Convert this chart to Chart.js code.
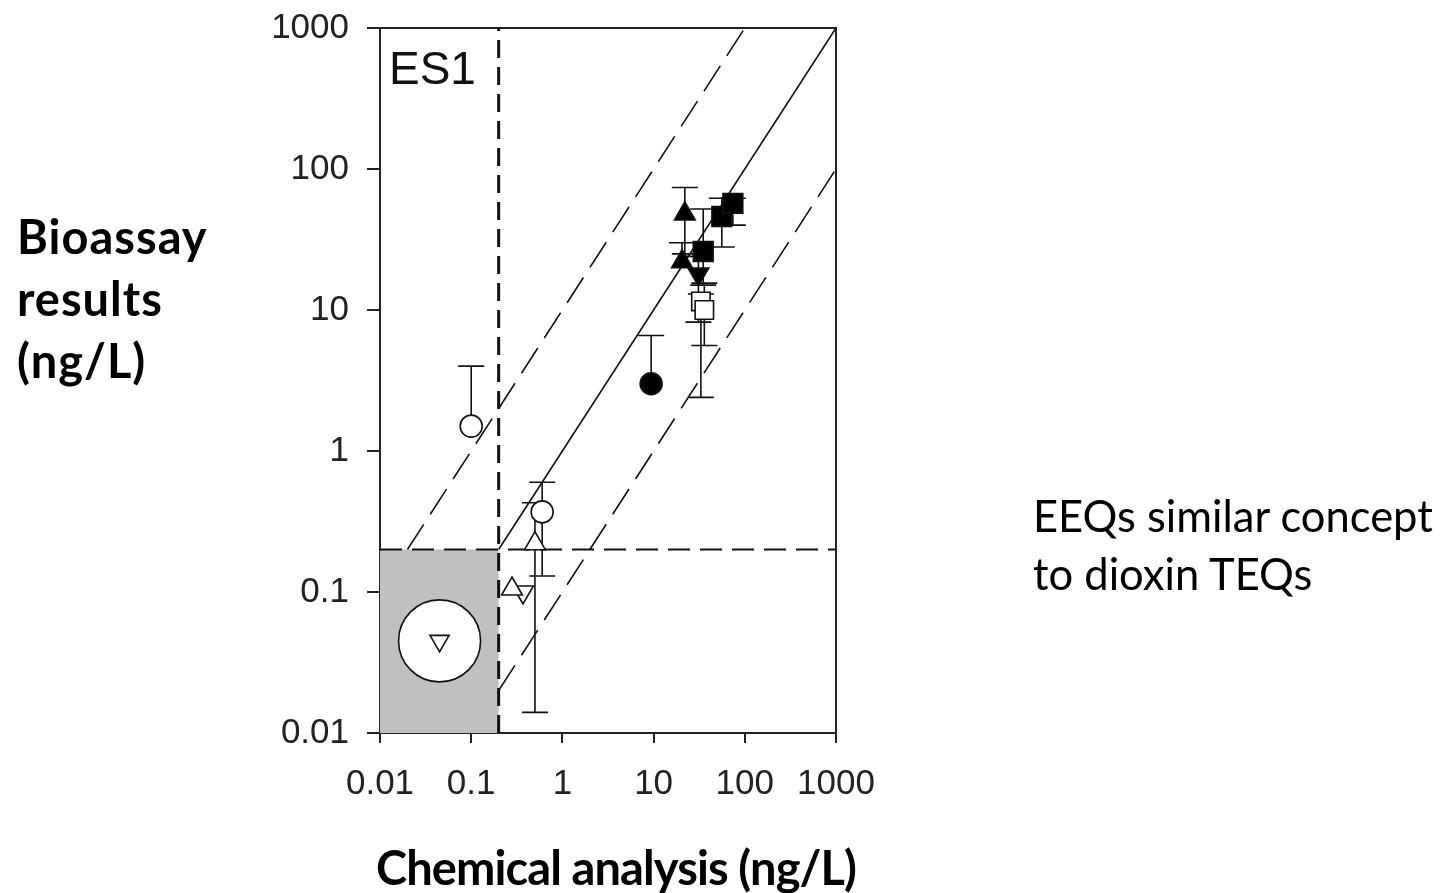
<!DOCTYPE html>
<html>
<head>
<meta charset="utf-8">
<script src="https://cdn.jsdelivr.net/npm/chart.js@4.4.1/dist/chart.umd.min.js"></script>
<style>
  body { margin: 0; background: #fff; }
  #wrap { position: relative; width: 1454px; height: 893px; }
  #grafico { position: absolute; left: 0; top: 0; }
  .etiqueta { position: absolute; font-family: Lato, "Open Sans", sans-serif; color: #000; white-space: nowrap; }
  .negrita { font-weight: 700; font-size: 47px; line-height: 62px; }
  #eje-y { left: 17px; top: 205px; letter-spacing: 1px; }
  #eje-x { left: 376px; top: 836px; letter-spacing: -0.9px; }
  #nota { left: 1033px; top: 486px; font-size: 43.5px; line-height: 58px; }
</style>
</head>
<body>
<div id="wrap">
  <canvas id="grafico" width="1454" height="893"></canvas>
  <div class="etiqueta negrita" id="eje-y">Bioassay<br>results<br>(ng/L)</div>
  <div class="etiqueta negrita" id="eje-x">Chemical analysis (ng/L)</div>
  <div class="etiqueta" id="nota">EEQs similar concept<br>to dioxin TEQs</div>
</div>
<script>
// ticks de los ejes (log)
const ticksX = [0.01, 0.1, 1, 10, 100, 1000];
const ticksY = [0.01, 0.1, 1, 10, 100, 1000];

// puntos abiertos
const circAbiertoX = [0.1, 0.6];
const circAbiertoY = [1.5, 0.37];
const circAbiertoLo = [1.5, 0.13];
const circAbiertoHi = [4, 0.6];

const triArribaAbiertoX = [0.5, 0.28];
const triArribaAbiertoY = [0.22, 0.105];
const triArribaAbiertoLo = [0.014, 0.105];
const triArribaAbiertoHi = [0.43, 0.105];

const triAbajoAbiertoX = [0.37];
const triAbajoAbiertoY = [0.1];

const cuadAbiertoX = [33, 36];
const cuadAbiertoY = [11.5, 10];
const cuadAbiertoLo = [2.4, 5.6];
const cuadAbiertoHi = [13, 15.5];

// puntos rellenos
const circLlenoX = [9.4];
const circLlenoY = [3.0];
const circLlenoLo = [3.0];
const circLlenoHi = [6.6];

const triArribaLlenoX = [22, 20.5];
const triArribaLlenoY = [48, 22];
const triArribaLlenoLo = [25, 22];
const triArribaLlenoHi = [74, 30];

const triAbajoLlenoX = [31];
const triAbajoLlenoY = [18];
const triAbajoLlenoLo = [8.2];
const triAbajoLlenoHi = [24];

const cuadLlenoX = [35, 56, 74];
const cuadLlenoY = [26, 46, 57];
const cuadLlenoLo = [15, 28, 40];
const cuadLlenoHi = [52, 62, 62];

// punto grande en la zona gris (por debajo del limite)
const bajoLimiteX = [0.045];
const bajoLimiteY = [0.045];

// lineas de referencia
const linea11X = [0.2, 1000];
const linea11Y = [0.2, 1000];
const lineaSupX = [0.02, 100];
const lineaSupY = [0.2, 1000];
const lineaInfX = [0.2, 1000];
const lineaInfY = [0.02, 100];
const limiteX = 0.2;
const limiteY = 0.2;

// zona gris
const grisX = [0.01, 0.2];
const grisY = [0.01, 0.2];

const armar = (xs, ys) => xs.map((x, i) => ({ x: x, y: ys[i] }));

function puntos(label, xs, ys, lo, hi, estilo, radio, relleno, rot) {
    return {
        type: 'scatter', label, data: armar(xs, ys), lo, hi,
        pointStyle: estilo, pointRadius: radio, pointHoverRadius: radio,
        pointRotation: rot || 0,
        backgroundColor: relleno ? '#000' : '#fff',
        borderColor: '#111', borderWidth: 1.6, order: 1
    };
}

function linea(label, xs, ys, dash, ancho) {
    return {
        type: 'line', label, data: armar(xs, ys), borderColor: '#111',
        borderWidth: ancho, borderDash: dash, pointRadius: 0, fill: false, order: 5
    };
}

const datasets = [
    puntos('circ abierto', circAbiertoX, circAbiertoY, circAbiertoLo, circAbiertoHi, 'circle', 11, false),
    puntos('tri abierto', triArribaAbiertoX, triArribaAbiertoY, triArribaAbiertoLo, triArribaAbiertoHi, 'triangle', 12, false),
    puntos('tri abajo abierto', triAbajoAbiertoX, triAbajoAbiertoY, null, null, 'triangle', 12, false, 180),
    puntos('cuad abierto', cuadAbiertoX, cuadAbiertoY, cuadAbiertoLo, cuadAbiertoHi, 'rect', 13, false),
    puntos('circ lleno', circLlenoX, circLlenoY, circLlenoLo, circLlenoHi, 'circle', 11, true),
    puntos('tri lleno', triArribaLlenoX, triArribaLlenoY, triArribaLlenoLo, triArribaLlenoHi, 'triangle', 12, true),
    puntos('tri abajo lleno', triAbajoLlenoX, triAbajoLlenoY, triAbajoLlenoLo, triAbajoLlenoHi, 'triangle', 12, true, 180),
    puntos('cuad lleno', cuadLlenoX, cuadLlenoY, cuadLlenoLo, cuadLlenoHi, 'rect', 14, true),
    Object.assign(puntos('tri bajo limite', bajoLimiteX, bajoLimiteY, null, null, 'triangle', 11, false, 180), { order: 0 }),
    Object.assign(puntos('circ bajo limite', bajoLimiteX, bajoLimiteY, null, null, 'circle', 41, false), { order: 2 }),
    linea('1:1', linea11X, linea11Y, [], 1.6),
    linea('x10', lineaSupX, lineaSupY, [30, 12], 1.6),
    linea('/10', lineaInfX, lineaInfY, [30, 12], 1.6),
    linea('limite x', [limiteX, limiteX], [0.01, 1000], [18, 9], 3),
    linea('limite y', [0.01, 1000], [limiteY, limiteY], [22, 10], 2)
];

// zona gris, marco, barras de error y rotulo ES1
const extras = {
    id: 'extras',
    beforeDatasetsDraw(chart) {
        const { ctx, scales: { x, y } } = chart;
        ctx.save();
        ctx.fillStyle = '#c0c0c0';
        const x0 = x.getPixelForValue(grisX[0]), x1 = x.getPixelForValue(grisX[1]);
        const y0 = y.getPixelForValue(grisY[0]), y1 = y.getPixelForValue(grisY[1]);
        ctx.fillRect(x0, y1, x1 - x0, y0 - y1);

        ctx.strokeStyle = '#111';
        ctx.lineWidth = 1.6;
        chart.data.datasets.forEach(ds => {
            if (!ds.lo || !ds.hi) return;
            ds.data.forEach((p, i) => {
                const px = x.getPixelForValue(p.x);
                const py = y.getPixelForValue(p.y);
                [ds.lo[i], ds.hi[i]].forEach(v => {
                    if (v == null || v === p.y) return;
                    const pv = y.getPixelForValue(v);
                    ctx.beginPath();
                    ctx.moveTo(px, py); ctx.lineTo(px, pv);
                    ctx.moveTo(px - 13, pv); ctx.lineTo(px + 13, pv);
                    ctx.stroke();
                });
            });
        });
        ctx.restore();
    },
    afterDraw(chart) {
        const { ctx, chartArea: a } = chart;
        ctx.save();
        ctx.strokeStyle = '#222';
        ctx.lineWidth = 2;
        ctx.beginPath();
        ctx.moveTo(a.left, a.top); ctx.lineTo(a.right, a.top); ctx.lineTo(a.right, a.bottom);
        ctx.stroke();
        ctx.fillStyle = '#111';
        ctx.font = '46px "Liberation Sans", Arial, sans-serif';
        ctx.textBaseline = 'alphabetic';
        ctx.fillText('ES1', a.left + 9, a.top + 56);
        ctx.restore();
    }
};

const fuenteTicks = { family: '"Liberation Sans", Arial, sans-serif', size: 35 };

new Chart(document.getElementById('grafico'), {
    data: { datasets },
    options: {
        responsive: false,
        animation: false,
        layout: { autoPadding: false, padding: { left: 0, top: 28, right: 618, bottom: 0 } },
        plugins: { legend: { display: false }, tooltip: { enabled: false } },
        scales: {
            x: {
                type: 'logarithmic', position: 'bottom', min: 0.01, max: 1000,
                afterBuildTicks: s => { s.ticks = ticksX.map(v => ({ value: v })); },
                afterFit: s => { s.height = 160; s.paddingLeft = 0; s.paddingRight = 0; },
                border: { display: true, color: '#222', width: 2 },
                grid: { drawOnChartArea: false, drawTicks: true, tickLength: 10, color: '#222', lineWidth: 2 },
                ticks: { color: '#222', font: fuenteTicks, padding: 20, maxRotation: 0, autoSkip: false,
                         callback: v => String(v) }
            },
            y: {
                type: 'logarithmic', position: 'left', min: 0.01, max: 1000,
                afterBuildTicks: s => { s.ticks = ticksY.map(v => ({ value: v })); },
                afterFit: s => { s.width = 380; s.paddingTop = 0; s.paddingBottom = 0; },
                border: { display: true, color: '#222', width: 2 },
                grid: { drawOnChartArea: false, drawTicks: true, tickLength: 13, color: '#222', lineWidth: 2 },
                ticks: { color: '#222', font: fuenteTicks, padding: 18, autoSkip: false,
                         callback: v => String(v) }
            }
        }
    },
    plugins: [extras]
});
</script>
</body>
</html>
